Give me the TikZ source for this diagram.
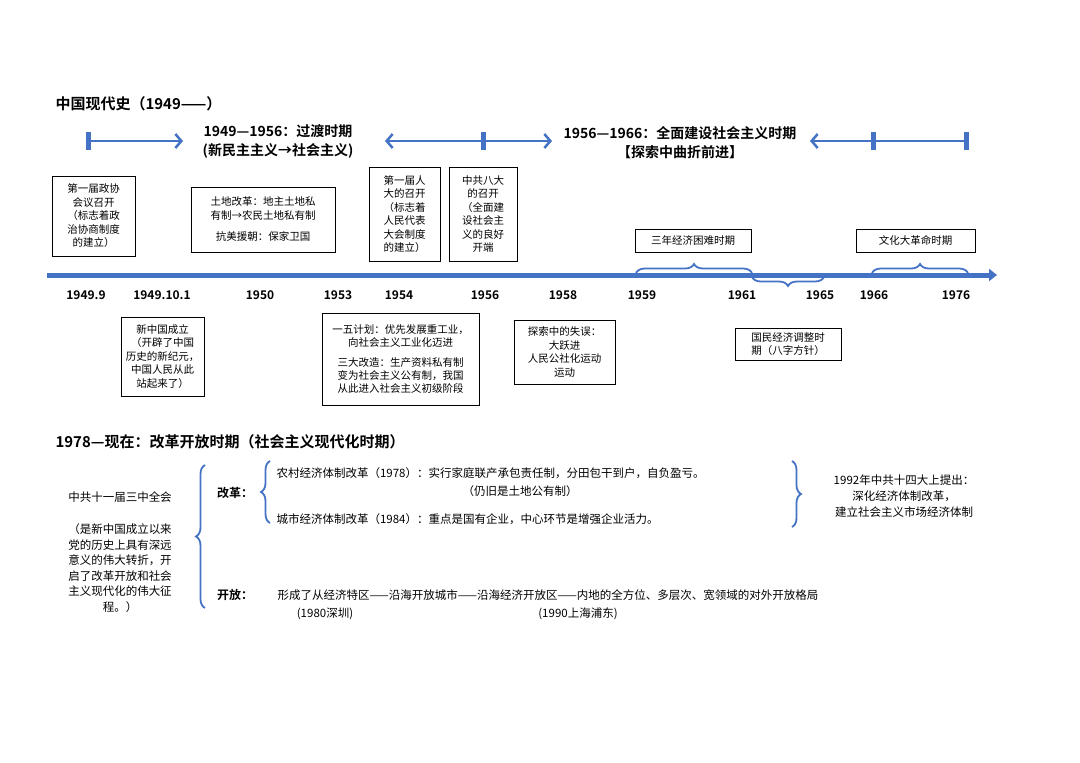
\documentclass[tikz,border=0pt]{standalone}
\usepackage{fontspec}
\setmainfont{Noto Sans CJK SC}
\newfontfamily\headfont{Noto Sans CJK SC Bold}
\usetikzlibrary{decorations.pathreplacing,arrows.meta}
\definecolor{lineblue}{HTML}{4472C4}

\begin{document}
\begin{tikzpicture}[x=1pt,y=-1pt,
    evbox/.style={draw, thick, inner sep=1pt, align=center, font=\fontsize{10.5}{13.5}\selectfont},
    yearlbl/.style={font=\headfont\fontsize{12}{14}\selectfont},
    headlbl/.style={font=\headfont\fontsize{14}{19}\selectfont, align=center},
    plain/.style={font=\fontsize{11.5}{14}\selectfont, align=center},
    bluebar/.style={lineblue, line width=2.5pt},
    brc/.style={lineblue, line width=1.8pt, decorate, decoration={brace, amplitude=9pt}},
  ]
    \useasboundingbox (0,0) rectangle (1080,763);
    % titles
    \node[anchor=west, font=\headfont\fontsize{15}{18}\selectfont] (title) at (52,104) {中国现代史（1949——）};
    \node[anchor=west, font=\headfont\fontsize{15}{18}\selectfont] (title2) at (52,442) {1978—现在：改革开放时期（社会主义现代化时期）};

    % period arrows
    \coordinate (pa1) at (88,141);  \coordinate (pa2) at (183,141);
    \coordinate (pb0) at (385,141); \coordinate (pb1) at (483,141); \coordinate (pb2) at (552,141);
    \coordinate (pc0) at (810,141); \coordinate (pc1) at (873,141); \coordinate (pc2) at (966,141);
    \draw[bluebar, -{Straight Barb[length=6pt,width=14pt]}] (pa1) -- (pa2);
    \draw[bluebar, {Straight Barb[length=6pt,width=14pt]}-{Straight Barb[length=6pt,width=14pt]}] (pb0) -- (pb2);
    \draw[bluebar, {Straight Barb[length=6pt,width=14pt]}-] (pc0) -- (pc2);
    \foreach \t in {pa1,pb1,pc1,pc2}
      \draw[lineblue, line width=5pt] ([yshift=-9pt]\t) -- ([yshift=9pt]\t);
    \node[headlbl] (per1) at (278,141) {1949—1956：过渡时期\\(新民主主义→社会主义)};
    \node[headlbl] (per2) at (680,143) {1956—1966：全面建设社会主义时期\\【探索中曲折前进】};

    % timeline
    \coordinate (tl0) at (47,275); \coordinate (tl1) at (997,275);
    \draw[lineblue, line width=5pt, -{Triangle[length=8pt,width=12pt]}] (tl0) -- (tl1);
    \foreach \x/\y in {86/1949.9, 162/1949.10.1, 260/1950, 338/1953, 399/1954, 485/1956,
                       563/1958, 642/1959, 742/1961, 820/1965, 874/1966, 956/1976}
      \node[yearlbl] (y\x) at (\x,295) {\y};

    % boxes above
    \node[evbox, minimum width=83pt, minimum height=80pt] (zx) at (93.5,216) {第一届政协\\会议召开\\（标志着政\\治协商制度\\的建立）};
    \node[evbox, minimum width=144pt, minimum height=65pt] (tg) at (263,219.5) {土地改革：地主土地私\\有制→农民土地私有制\\[8pt]抗美援朝：保家卫国};
    \node[evbox, minimum width=71pt, minimum height=94pt] (rd) at (404.5,214) {第一届人\\大的召开\\（标志着\\人民代表\\大会制度\\的建立）};
    \node[evbox, minimum width=68pt, minimum height=94pt] (bd) at (483,214) {中共八大\\的召开\\（全面建\\设社会主\\义的良好\\开端};
    \node[evbox, minimum width=116pt, minimum height=23pt] (kn) at (693,240.5) {三年经济困难时期};
    \node[evbox, minimum width=119pt, minimum height=23pt] (wg) at (915.5,240.5) {文化大革命时期};

    % boxes below
    \node[evbox, minimum width=83pt, minimum height=79pt] (xz) at (162.5,356.5) {新中国成立\\（开辟了中国\\历史的新纪元，\\中国人民从此\\站起来了）};
    \node[evbox, minimum width=157pt, minimum height=92pt, font=\fontsize{10.5}{13}\selectfont] (yw) at (400.5,359) {一五计划：优先发展重工业，\\向社会主义工业化迈进\\[7pt]三大改造：生产资料私有制\\变为社会主义公有制，我国\\从此进入社会主义初级阶段};
    \node[evbox, minimum width=101pt, minimum height=64pt] (sw) at (564.5,352) {探索中的失误：\\大跃进\\人民公社化运动\\运动};
    \node[evbox, minimum width=106pt, minimum height=32pt] (tz) at (788,344) {国民经济调整时\\期（八字方针）};

    % braces on timeline
    \draw[brc] (636,273) -- (752,273);
    \draw[brc] (824,277) -- (752,277);
    \draw[brc] (872,273) -- (968,273);

    % reform section
    \node[plain] (sz) at (120,497) {中共十一届三中全会};
    \node[plain, font=\fontsize{11.5}{15.5}\selectfont] (szd) at (120,568) {（是新中国成立以来\\党的历史上具有深远\\意义的伟大转折，开\\启了改革开放和社会\\主义现代化的伟大征\\程。）};
    \draw[brc] (205,608) -- (205,465);
    \node[font=\headfont\fontsize{12}{14}\selectfont] (gg) at (235,493) {改革：};
    \draw[brc] (270,523) -- (270,461);
    \node[plain, anchor=west] (nc) at (273,473) {农村经济体制改革（1978）：实行家庭联产承包责任制，分田包干到户，自负盈亏。};
    \node[plain] (ncb) at (520,491) {（仍旧是土地公有制）};
    \node[plain, anchor=west] (cs) at (273,519) {城市经济体制改革（1984）：重点是国有企业，中心环节是增强企业活力。};
    \draw[brc] (792,461) -- (792,527);
    \node[plain, font=\fontsize{11.5}{16}\selectfont] (sd) at (904,496) {1992年中共十四大上提出：\\深化经济体制改革，\\建立社会主义市场经济体制};
    \node[font=\headfont\fontsize{12}{14}\selectfont] (kf) at (235,595) {开放：};
    \node[plain, anchor=west] (kft) at (274,595) {形成了从经济特区——沿海开放城市——沿海经济开放区——内地的全方位、多层次、宽领域的对外开放格局};
    \node[plain] (sz1) at (325,614) {(1980深圳)};
    \node[plain] (pd) at (578,614) {(1990上海浦东)};
\end{tikzpicture}
\end{document}
